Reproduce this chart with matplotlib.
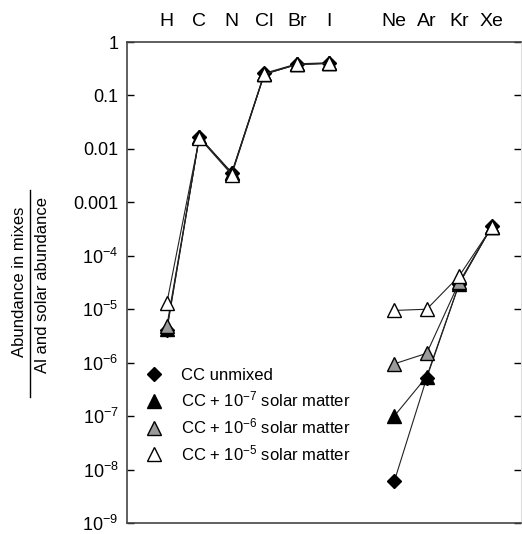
import matplotlib
matplotlib.use("Agg")
import matplotlib.pyplot as plt
from matplotlib.lines import Line2D
import numpy as np

# element labels along the top, halogens then noble gases
halogens = ["H", "C", "N", "Cl", "Br", "I"]
noble_gases = ["Ne", "Ar", "Kr", "Xe"]

# abundance in mixes / (Al and solar abundance)
cc_unmixed_hal = [4.0e-6, 0.0168, 0.0036, 0.26, 0.39, 0.41]
cc_unmixed_noble = [6.0e-9, 5.2e-7, 3.0e-5, 3.6e-4]
cc_1e7_hal = [4.2e-6, 0.0165, 0.0035, 0.25, 0.38, 0.40]
cc_1e7_noble = [1.0e-7, 5.5e-7, 3.0e-5, 3.5e-4]
cc_1e6_hal = [4.8e-6, 0.0165, 0.0035, 0.25, 0.38, 0.40]
cc_1e6_noble = [9.5e-7, 1.5e-6, 3.2e-5, 3.5e-4]
cc_1e5_hal = [1.3e-5, 0.0160, 0.0033, 0.25, 0.38, 0.40]
cc_1e5_noble = [9.5e-6, 1.0e-5, 4.2e-5, 3.4e-4]

series_labels = [
    "CC unmixed",
    r"CC + $\mathregular{10^{-7}}$ solar matter",
    r"CC + $\mathregular{10^{-6}}$ solar matter",
    r"CC + $\mathregular{10^{-5}}$ solar matter",
]

ytick_values = [1, 0.1, 0.01, 0.001, 1e-4, 1e-5, 1e-6, 1e-7, 1e-8, 1e-9]
ytick_labels = ["1", "0.1", "0.01", "0.001"] + [
    r"$\mathregular{10^{-%d}}$" % k for k in range(4, 10)
]

plt.rcParams.update({
    "font.family": ["Liberation Sans", "DejaVu Sans"],
    "mathtext.fontset": "custom",
    "mathtext.rm": "Liberation Sans",
    "mathtext.it": "Liberation Sans:italic",
    "mathtext.bf": "Liberation Sans:bold",
})

fig = plt.figure(figsize=(5.22, 5.34), dpi=100)
ax = fig.add_axes([0.243, 0.0206, 0.755, 0.9007])

x_hal = np.arange(len(halogens))
x_noble = np.arange(len(noble_gases)) + len(halogens) + 1

styles = [
    dict(marker="D", markersize=7.5, markerfacecolor="black"),
    dict(marker="^", markersize=10, markerfacecolor="black"),
    dict(marker="^", markersize=10, markerfacecolor="#9a9a9a"),
    dict(marker="^", markersize=10, markerfacecolor="white"),
]
pairs = [
    (cc_unmixed_hal, cc_unmixed_noble),
    (cc_1e7_hal, cc_1e7_noble),
    (cc_1e6_hal, cc_1e6_noble),
    (cc_1e5_hal, cc_1e5_noble),
]

handles = []
for (hal, noble), st, label in zip(pairs, styles, series_labels):
    for xs, ys in ((x_hal, hal), (x_noble, noble)):
        ax.plot(xs, ys, color="#222222", linewidth=0.8,
                markeredgecolor="black", markeredgewidth=1.0, **st)
    handles.append(Line2D([], [], linestyle="none", markeredgecolor="black",
                          markeredgewidth=1.0, **st))

ax.set_yscale("log")
ax.set_ylim(1e-9, 1)
ax.set_xlim(-1.23, 10.9)
ax.set_yticks(ytick_values)
ax.set_yticklabels(ytick_labels)
ax.yaxis.set_minor_locator(matplotlib.ticker.NullLocator())
ax.tick_params(axis="y", direction="in", length=5, width=1.0,
               left=True, right=True, labelsize=13, pad=6)

ax.set_xticks(list(x_hal) + list(x_noble))
ax.set_xticklabels(halogens + noble_gases)
ax.xaxis.set_ticks_position("top")
ax.tick_params(axis="x", length=0, labelsize=14, pad=9,
               top=True, labeltop=True, bottom=False, labelbottom=False)

for side in ("left", "top", "bottom"):
    ax.spines[side].set_color("#444444")
    ax.spines[side].set_linewidth(1.2)
ax.spines["right"].set_color("#dddddd")

ax.legend(handles, series_labels, loc="lower left",
          bbox_to_anchor=(0.015, 0.100), frameon=False, fontsize=12,
          handletextpad=1.0, labelspacing=0.42, borderaxespad=0.3,
          handlelength=1.2)

# two-line y label written as a fraction
fig.text(0.038, 0.472, "Abundance in mixes", rotation=90,
         ha="center", va="center", fontsize=12)
fig.text(0.082, 0.466, "Al and solar abundance", rotation=90,
         ha="center", va="center", fontsize=12)
fig.add_artist(Line2D([0.0575, 0.0575], [0.257, 0.644], color="black",
                      linewidth=1.0, transform=fig.transFigure))

fig.savefig("out.png", dpi=100, facecolor="white")
